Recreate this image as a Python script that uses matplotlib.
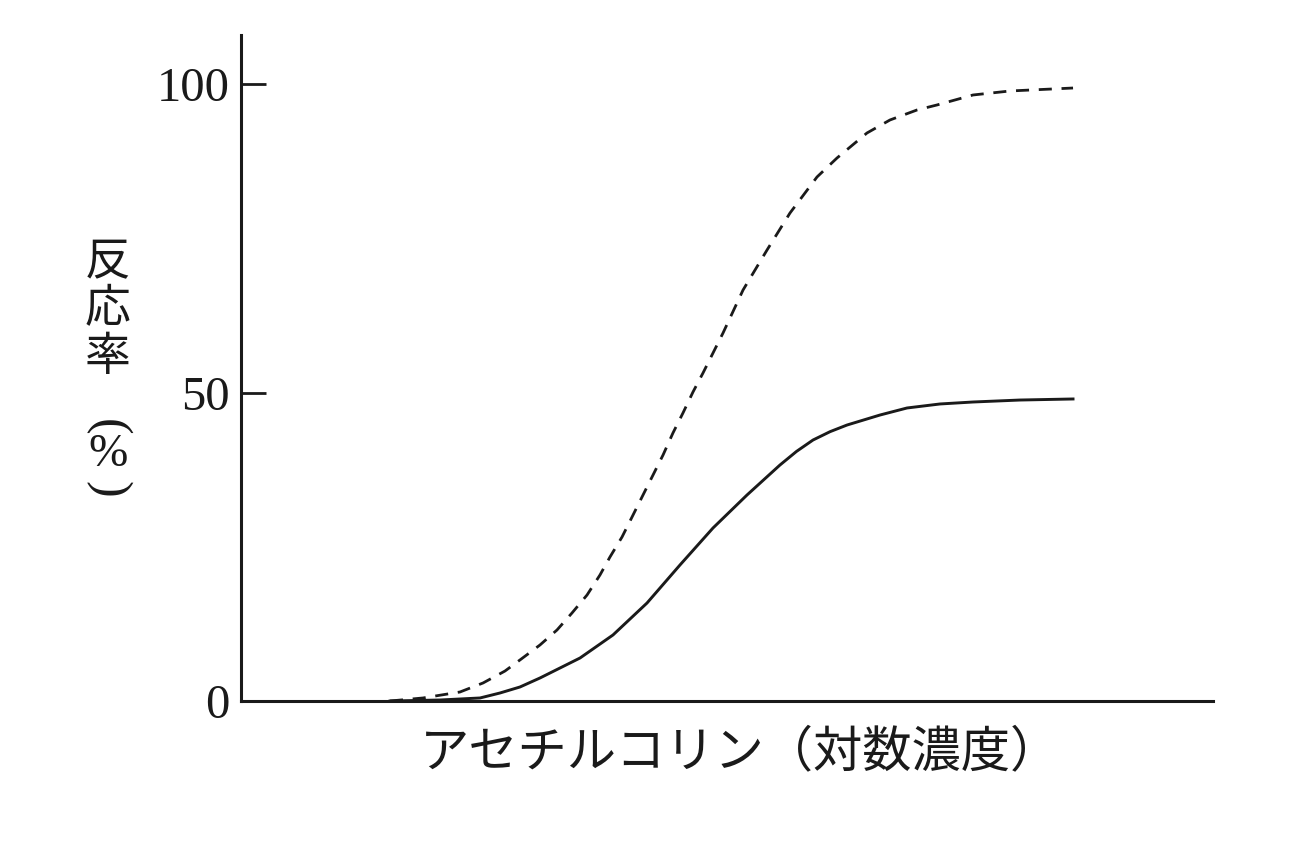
import matplotlib
matplotlib.use("Agg")
import matplotlib.pyplot as plt

# x: log concentration (arbitrary units), y: response (%)
dashed_x = [1.533, 1.872, 2.253, 2.490, 2.716, 2.870, 3.076, 3.251, 3.405, 3.560,
            3.693, 3.796, 3.920, 4.023, 4.136, 4.239, 4.342, 4.444, 4.547, 4.650,
            4.753, 4.959, 5.165, 5.412, 5.648, 5.926, 6.132, 6.440, 6.677, 6.955,
            7.160, 7.531, 7.912, 8.560]
dashed_y = [0.0, 0.49, 1.46, 2.92, 4.86, 6.65, 9.08, 11.51, 14.26, 17.18,
            20.42, 23.34, 26.58, 29.82, 33.39, 36.63, 39.87, 43.44, 46.68, 50.08,
            53.16, 59.64, 66.61, 73.10, 79.09, 84.93, 88.01, 92.06, 94.17, 95.79,
            96.60, 98.22, 98.87, 99.35]

solid_x = [1.533, 2.047, 2.459, 2.665, 2.870, 3.076, 3.282, 3.488, 3.827, 4.177,
           4.516, 4.856, 5.206, 5.545, 5.715, 5.885, 6.060, 6.235, 6.574, 6.852,
           7.191, 7.531, 8.014, 8.560]
solid_y = [0.0, 0.16, 0.49, 1.30, 2.27, 3.73, 5.35, 6.97, 10.70, 15.88,
           22.04, 28.04, 33.39, 38.25, 40.45, 42.30, 43.65, 44.73, 46.35, 47.49,
           48.14, 48.46, 48.78, 48.95]

yticks = [0, 50, 100]
ylabel_chars = ["反", "応", "率"]
xlabel_text = "アセチルコリン（対数濃度）"

W, H = 1290, 844
fig = plt.figure(figsize=(W / 100, H / 100), dpi=100)
ax = fig.add_axes([241 / W, 143 / H, (1213 - 241) / W, (701 - 35) / H])

ink = "#1a1a1a"
ax.plot(dashed_x, dashed_y, color=ink, lw=2.0, linestyle=(0, (4.7, 3.5)),
        dash_capstyle="butt", dash_joinstyle="round")
ax.plot(solid_x, solid_y, color=ink, lw=2.1, solid_joinstyle="round")

ax.set_xlim(0, 10)
ax.set_ylim(0, (701 - 35) / 6.17)
for s in ["top", "right"]:
    ax.spines[s].set_visible(False)
for s in ["left", "bottom"]:
    ax.spines[s].set_linewidth(2.2)
    ax.spines[s].set_color(ink)

ax.set_xticks([])
ax.set_yticks(yticks)
ax.set_yticklabels([str(v) for v in yticks], family="Liberation Serif", fontsize=35)
ax.tick_params(axis="y", direction="in", length=18, width=2.0, color=ink,
               pad=8, labelcolor=ink)

# vertical y label
ys = [262, 309, 357]
for ch, yy in zip(ylabel_chars, ys):
    fig.text(108 / W, 1 - yy / H, ch, ha="center", va="center", fontsize=33,
             family=["Noto Sans CJK JP"], color=ink)
fig.text(107 / W, 1 - 427 / H, "(", ha="center", va="center", fontsize=36,
         rotation=-90, family=["Liberation Serif"], color=ink)
fig.text(108 / W, 1 - 455 / H, "%", ha="center", va="center", fontsize=34,
         family=["Liberation Serif"], color=ink)
fig.text(107 / W, 1 - 489 / H, ")", ha="center", va="center", fontsize=36,
         rotation=-90, family=["Liberation Serif"], color=ink)

fig.text(740 / W, 1 - 752 / H, xlabel_text, ha="center", va="center", fontsize=35.5,
         family=["Noto Sans CJK JP"], color=ink)

fig.savefig("out.png", dpi=100, facecolor="white")
